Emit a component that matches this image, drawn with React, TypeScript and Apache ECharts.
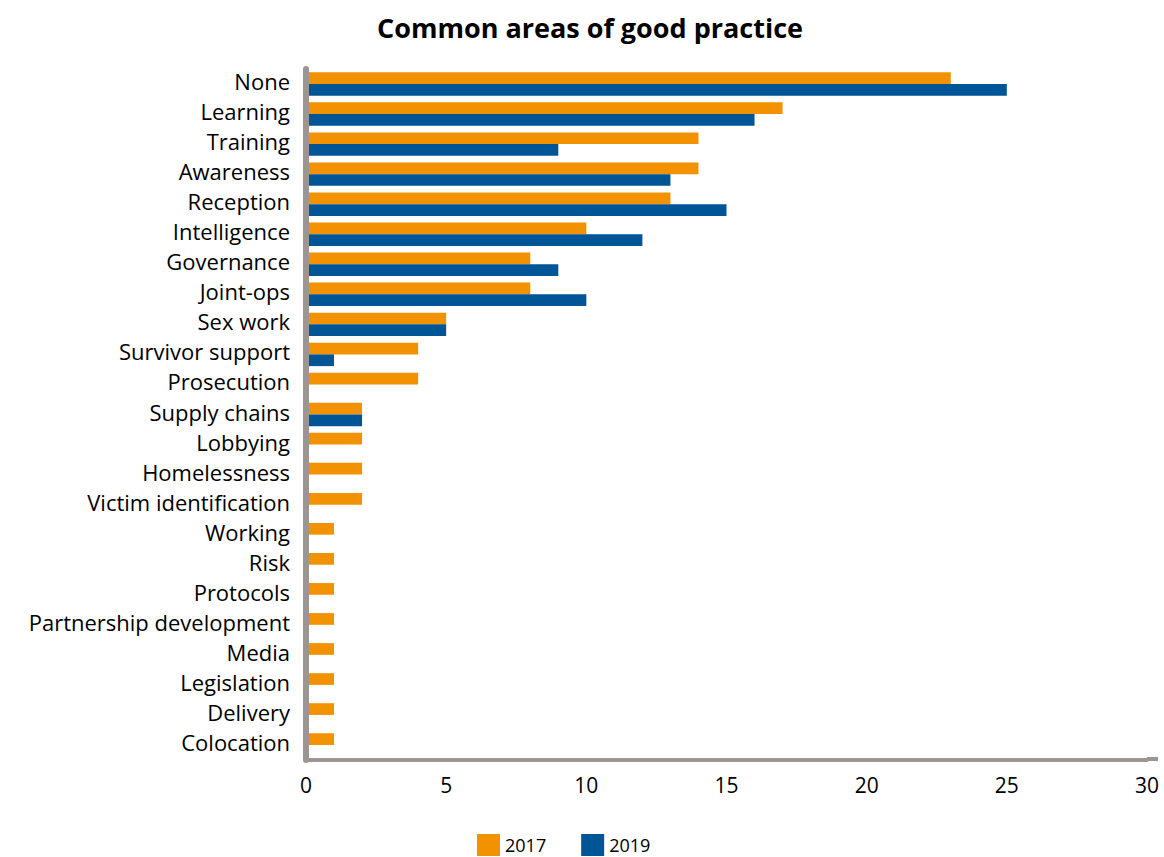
import React, { useEffect, useRef } from "react";
import * as echarts from "echarts";

const categories = [
  "None", "Learning", "Training", "Awareness", "Reception", "Intelligence",
  "Governance", "Joint-ops", "Sex work", "Survivor support", "Prosecution",
  "Supply chains", "Lobbying", "Homelessness", "Victim identification",
  "Working", "Risk", "Protocols", "Partnership development", "Media",
  "Legislation", "Delivery", "Colocation",
];
const values2017 = [23, 17, 14, 14, 13, 10, 8, 8, 5, 4, 4, 2, 2, 2, 2, 1, 1, 1, 1, 1, 1, 1, 1];
const values2019 = [25, 16, 9, 13, 15, 12, 9, 10, 5, 1, 0, 2, 0, 0, 0, 0, 0, 0, 0, 0, 0, 0, 0];
const xTicks = { min: 0, max: 30, interval: 5 };
const seriesNames = ["2017", "2019"];

const FONT = "'Open Sans', 'Noto Sans', sans-serif";
const AXIS_GRAY = "#9c9591";

export default function App() {
  const ref = useRef<HTMLDivElement>(null);
  useEffect(() => {
    document.body.style.margin = "0";
    const chart = echarts.init(ref.current!, null, { renderer: "svg" });
    chart.setOption({
      animation: false,
      title: {
        text: "Common areas of good practice",
        left: 585,
        top: 9,
        textAlign: "center",
        textStyle: { fontFamily: FONT, fontSize: 27, fontWeight: "bold", color: "#000" },
      },
      legend: {
        data: seriesNames,
        left: 477,
        top: 834,
        padding: 0,
        itemWidth: 23,
        itemHeight: 22,
        itemGap: 35,
        icon: "rect",
        textStyle: { fontFamily: FONT, fontSize: 18, color: "#000", lineHeight: 18 },
      },
      grid: { left: 306, right: 17, top: 69, bottom: 97, containLabel: false },
      xAxis: {
        type: "value",
        min: xTicks.min,
        max: xTicks.max,
        interval: xTicks.interval,
        splitLine: { show: false },
        axisTick: { show: false },
        axisLine: { show: true, lineStyle: { color: AXIS_GRAY, width: 4 } },
        axisLabel: { fontFamily: FONT, fontSize: 21, color: "#000", margin: 14 },
      },
      yAxis: {
        type: "category",
        data: categories,
        inverse: true,
        z: 5,
        axisTick: { show: false },
        axisLine: { show: true, lineStyle: { color: AXIS_GRAY, width: 6 } },
        axisLabel: {
          fontFamily: FONT,
          fontSize: 22,
          color: "#000",
          margin: 16,
          verticalAlign: "bottom",
          lineHeight: 6,
        },
      },
      graphic: [
        {
          type: "line",
          shape: { x1: 1147, y1: 759, x2: 1158, y2: 759 },
          style: { stroke: AXIS_GRAY, lineWidth: 4 },
        },
      ],
      series: [
        {
          name: seriesNames[0],
          type: "bar",
          data: values2017,
          itemStyle: { color: "#f39200" },
          barGap: "0%",
          barCategoryGap: "22%",
        },
        {
          name: seriesNames[1],
          type: "bar",
          data: values2019,
          itemStyle: { color: "#005596" },
          barGap: "0%",
          barCategoryGap: "22%",
        },
      ],
    });
    return () => chart.dispose();
  }, []);
  return <div ref={ref} style={{ width: 1164, height: 857 }} />;
}
